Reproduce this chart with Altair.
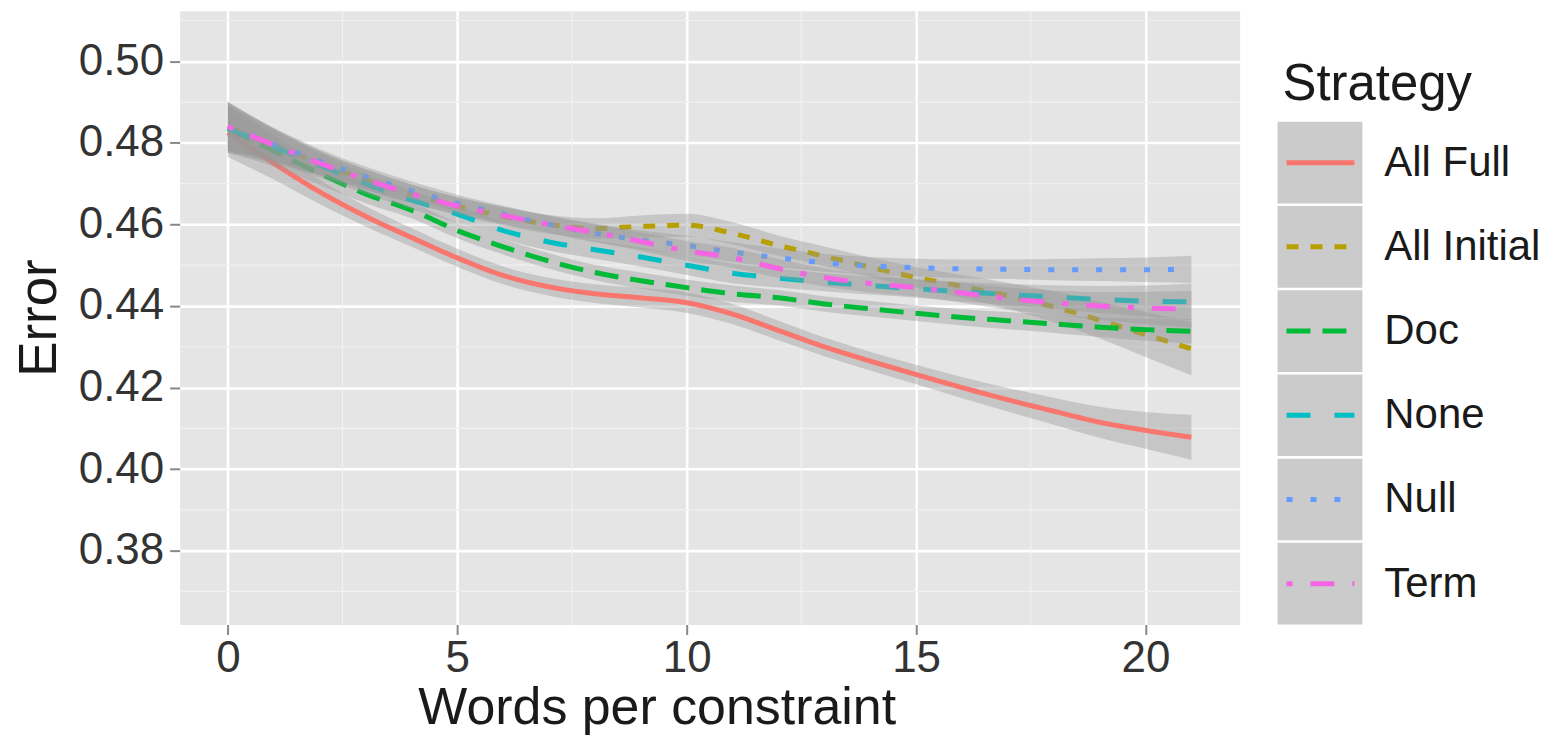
import altair as alt
import pandas as pd

# ---------------- data ----------------
strategies = ["All Full", "All Initial", "Doc", "None", "Null", "Term"]
colors = ["#F8766D", "#B79F00", "#00BA38", "#00BFC4", "#619CFF", "#F564E3"]
dashes = [[1, 0], [12, 12], [24, 12], [24, 24], [6, 18], [6, 18, 24, 18]]

words = [0, 1, 2, 3, 4, 5, 6, 7, 8, 9, 10, 11, 12, 13, 14, 15, 16, 17, 18, 19, 20, 21]

all_full = [0.4825, 0.4750, 0.4680, 0.4620, 0.4568, 0.4518, 0.4475, 0.4447, 0.4430, 0.4420, 0.4408,
            0.4380, 0.4340, 0.4300, 0.4265, 0.4232, 0.4200, 0.4170, 0.4142, 0.4115, 0.4095, 0.4078]
all_initial = [0.4840, 0.4795, 0.4750, 0.4710, 0.4675, 0.4645, 0.4620, 0.4600, 0.4590, 0.4595, 0.4598,
               0.4578, 0.4548, 0.4522, 0.4495, 0.4470, 0.4448, 0.4425, 0.4398, 0.4365, 0.4330, 0.4295]
doc = [0.4835, 0.4780, 0.4725, 0.4675, 0.4635, 0.4585, 0.4545, 0.4510, 0.4482, 0.4462, 0.4445,
       0.4430, 0.4420, 0.4405, 0.4393, 0.4382, 0.4372, 0.4364, 0.4356, 0.4348, 0.4342, 0.4338]
none = [0.4835, 0.4790, 0.4745, 0.4700, 0.4660, 0.4625, 0.4585, 0.4557, 0.4538, 0.4520, 0.4500,
        0.4480, 0.4468, 0.4458, 0.4450, 0.4442, 0.4435, 0.4428, 0.4422, 0.4416, 0.4412, 0.4410]
null = [0.4840, 0.4797, 0.4755, 0.4717, 0.4683, 0.4652, 0.4625, 0.4600, 0.4578, 0.4562, 0.4548,
        0.4532, 0.4518, 0.4506, 0.4498, 0.4494, 0.4491, 0.4490, 0.4489, 0.4489, 0.4489, 0.4490]
term = [0.4840, 0.4795, 0.4750, 0.4710, 0.4675, 0.4645, 0.4622, 0.4600, 0.4580, 0.4558, 0.4535,
        0.4518, 0.4492, 0.4470, 0.4455, 0.4445, 0.4432, 0.4418, 0.4408, 0.4400, 0.4395, 0.4392]

# half widths of the confidence bands
full_hw = [0.0060, 0.0040, 0.0030, 0.0025, 0.0023, 0.0022, 0.0022, 0.0022, 0.0023, 0.0024, 0.0025,
           0.0025, 0.0024, 0.0023, 0.0023, 0.0024, 0.0026, 0.0029, 0.0033, 0.0038, 0.0045, 0.0055]
initial_hw = [0.0060, 0.0040, 0.0030, 0.0025, 0.0023, 0.0022, 0.0022, 0.0023, 0.0025, 0.0027, 0.0028,
              0.0027, 0.0025, 0.0024, 0.0024, 0.0025, 0.0028, 0.0032, 0.0038, 0.0045, 0.0055, 0.0065]
doc_hw = [0.0060, 0.0038, 0.0028, 0.0023, 0.0020, 0.0019, 0.0019, 0.0019, 0.0019, 0.0020, 0.0020,
          0.0020, 0.0019, 0.0019, 0.0019, 0.0019, 0.0020, 0.0021, 0.0022, 0.0024, 0.0027, 0.0030]
none_hw = [0.0060, 0.0040, 0.0030, 0.0025, 0.0022, 0.0021, 0.0021, 0.0021, 0.0022, 0.0023, 0.0024,
           0.0024, 0.0023, 0.0022, 0.0022, 0.0022, 0.0024, 0.0026, 0.0029, 0.0033, 0.0038, 0.0045]
null_hw = [0.0060, 0.0040, 0.0030, 0.0025, 0.0022, 0.0021, 0.0021, 0.0021, 0.0022, 0.0023, 0.0024,
           0.0024, 0.0023, 0.0022, 0.0022, 0.0022, 0.0023, 0.0024, 0.0026, 0.0028, 0.0030, 0.0033]
term_hw = [0.0060, 0.0040, 0.0030, 0.0025, 0.0022, 0.0021, 0.0021, 0.0021, 0.0022, 0.0023, 0.0024,
           0.0024, 0.0023, 0.0022, 0.0022, 0.0022, 0.0024, 0.0027, 0.0030, 0.0034, 0.0040, 0.0045]

x_ticks = [0, 5, 10, 15, 20]
y_ticks = [0.38, 0.40, 0.42, 0.44, 0.46, 0.48, 0.50]
x_minor = [2.5, 7.5, 12.5, 17.5]
y_minor = [0.37, 0.39, 0.41, 0.43, 0.45, 0.47, 0.49, 0.51]

x_title = "Words per constraint"
y_title = "Error"
legend_title = "Strategy"

# ---------------- table ----------------
means = [all_full, all_initial, doc, none, null, term]
hws = [full_hw, initial_hw, doc_hw, none_hw, null_hw, term_hw]
rows = []
for s, m, h in zip(strategies, means, hws):
    for xv, mv, hv in zip(words, m, h):
        rows.append({"Strategy": s, "x": xv, "Error": mv, "lo": mv - hv, "hi": mv + hv})
df = pd.DataFrame(rows)

FONT = "Liberation Sans"
GRID = "#FFFFFF"

x_scale = alt.Scale(domain=[-1.05, 22.05], nice=False, zero=False)
y_scale = alt.Scale(domain=[0.3619, 0.5124], nice=False, zero=False)

x_axis = alt.Axis(values=x_ticks, title=x_title, grid=True, gridColor=GRID, gridWidth=2.6,
                  domain=False, ticks=True, tickSize=10, tickWidth=2, tickColor="#888888",
                  labelFontSize=44, labelColor="#333333", labelFont=FONT, labelPadding=2,
                  titleFontSize=52, titleFont=FONT, titleFontWeight="normal", titleColor="#1a1a1a",
                  titlePadding=2, titleX=478)
y_axis = alt.Axis(values=y_ticks, format=".2f", title=y_title, grid=True, gridColor=GRID, gridWidth=2.6,
                  domain=False, ticks=True, tickSize=10, tickWidth=2, tickColor="#888888",
                  labelFontSize=44, labelColor="#333333", labelFont=FONT, labelPadding=6,
                  titleFontSize=53, titleFont=FONT, titleFontWeight="normal", titleColor="#1a1a1a",
                  titlePadding=12)

color_enc = alt.Color("Strategy:N", scale=alt.Scale(domain=strategies, range=colors), legend=None)
dash_enc = alt.StrokeDash("Strategy:N", scale=alt.Scale(domain=strategies, range=dashes), legend=None)

base = alt.Chart(df)

layers = []
minor_v = alt.Chart(pd.DataFrame({"x": x_minor})).mark_rule(color="#F1F1F1", strokeWidth=1.2).encode(
    x=alt.X("x:Q", scale=x_scale, axis=x_axis))
minor_h = alt.Chart(pd.DataFrame({"Error": y_minor})).mark_rule(color="#F1F1F1", strokeWidth=1.2).encode(
    y=alt.Y("Error:Q", scale=y_scale, axis=y_axis))
layers += [minor_v, minor_h]

for s in strategies:
    band = base.transform_filter(alt.datum.Strategy == s).mark_area(
        interpolate="monotone", color="#999999", opacity=0.4).encode(
        x=alt.X("x:Q", scale=x_scale, axis=x_axis),
        y=alt.Y("lo:Q", scale=y_scale, axis=y_axis),
        y2="hi:Q")
    line = base.transform_filter(alt.datum.Strategy == s).mark_line(
        interpolate="monotone", strokeWidth=5, strokeCap="butt").encode(
        x=alt.X("x:Q", scale=x_scale, axis=x_axis),
        y=alt.Y("Error:Q", scale=y_scale, axis=y_axis),
        color=color_enc, strokeDash=dash_enc)
    layers += [band, line]

main = alt.layer(*layers).properties(
    width=1062, height=615,
    view=alt.ViewBackground(fill="#E5E5E5", stroke="transparent"))

# ---------------- legend panel ----------------
leg_df = pd.DataFrame({"Strategy": strategies})
leg_y = alt.Y("Strategy:N", sort=strategies,
              scale=alt.Scale(domain=strategies, paddingInner=0.03, paddingOuter=0.66, align=1),
              axis=None)
leg_base = alt.Chart(leg_df)
keys = leg_base.mark_rect(color="#CBCBCB").encode(y=leg_y, x=alt.value(0), x2=alt.value(85))
key_lines = leg_base.mark_rule(strokeWidth=5, strokeCap="butt").encode(
    y=leg_y, x=alt.value(9), x2=alt.value(77), color=color_enc, strokeDash=dash_enc)
labels = leg_base.mark_text(align="left", baseline="middle", fontSize=42, font=FONT,
                            color="#1a1a1a").encode(y=leg_y, x=alt.value(107), text="Strategy:N")
title = alt.Chart(pd.DataFrame({"t": [legend_title]})).mark_text(
    align="left", baseline="alphabetic", fontSize=51, font=FONT, color="#1a1a1a").encode(
    x=alt.value(5), y=alt.value(89), text="t:N")

legend = alt.layer(keys, key_lines, labels, title).properties(
    width=280, height=615,
    view=alt.ViewBackground(fill="#FFFFFF", stroke="transparent"))

chart = alt.hconcat(main, legend, spacing=38, bounds="flush").properties(
    padding={"left": 12, "top": 8, "right": 0, "bottom": 0},
    background="#FFFFFF",
).configure_view(stroke="transparent")

chart.save("out.html", embed_options={"renderer": "svg", "actions": False})
